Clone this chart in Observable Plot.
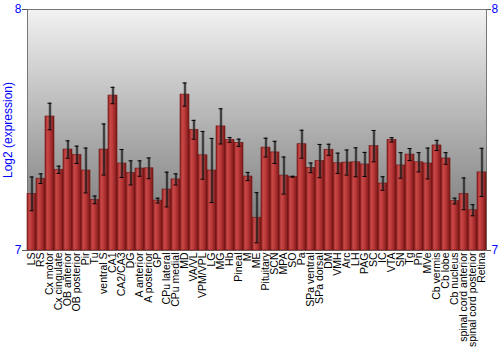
<!DOCTYPE html>
<html><head><meta charset="utf-8">
<script src="https://cdn.jsdelivr.net/npm/d3@7"></script>
<script src="https://cdn.jsdelivr.net/npm/@observablehq/plot@0.6"></script>
<style>
body{margin:0;background:#fff;}
g[aria-label="y-axis tick label"], g[aria-label="y-axis label"]{fill:#0000ff;}
</style>
</head><body><div id="chart"></div>
<script>
const regions = ["LS","RS","Cx motor","Cx cingulate","OB anterior","OB posterior","Pir","Tu","ventral S","CA1","CA2/CA3","DG","A anterior","A posterior","GP","CPu lateral","CPu medial","MD","VA/VL","VPM/VPL","LG","MG","Hb","Pineal","M","ME","Pituitary","SCN","MPA","SO","Pa","SPa ventral","SPa dorsal","DM","VMH","Arc","LH","PAG","SC","IC","VTA","SN","Tg","Pn","MVe","Cb vermis","Cb lobe","Cb nucleus","spinal cord anterior","spinal cord posterior","Retina"];
const means = [7.235,7.298,7.556,7.335,7.419,7.397,7.332,7.210,7.419,7.643,7.361,7.322,7.340,7.341,7.207,7.253,7.295,7.647,7.501,7.395,7.332,7.515,7.459,7.447,7.307,7.136,7.427,7.407,7.311,7.306,7.441,7.343,7.371,7.418,7.362,7.365,7.366,7.357,7.433,7.278,7.459,7.353,7.398,7.366,7.361,7.436,7.382,7.205,7.235,7.167,7.324];
const errs = [0.070,0.020,0.055,0.015,0.036,0.036,0.093,0.016,0.106,0.034,0.058,0.050,0.032,0.043,0.010,0.072,0.023,0.048,0.039,0.099,0.133,0.073,0.010,0.015,0.017,0.104,0.039,0.046,0.077,0.002,0.058,0.020,0.069,0.023,0.042,0.052,0.060,0.050,0.065,0.028,0.009,0.053,0.025,0.040,0.064,0.021,0.024,0.012,0.066,0.023,0.100];
const yTicks = [7, 8];
const data = regions.map((name, i) => ({name, v: means[i], e: errs[i]}));

const defs = () => {
  const ns = "http://www.w3.org/2000/svg";
  const d = document.createElementNS(ns, "defs");
  d.innerHTML = `
    <linearGradient id="bgGrad" x1="0" y1="0" x2="0" y2="1">
      <stop offset="0" stop-color="#f2f2f2"/>
      <stop offset="0.55" stop-color="#a8a8a8"/>
      <stop offset="1" stop-color="#707070"/>
    </linearGradient>
    <linearGradient id="barGrad" x1="0" y1="0" x2="1" y2="0">
      <stop offset="0" stop-color="#8a1e1e"/>
      <stop offset="0.25" stop-color="#c94848"/>
      <stop offset="0.55" stop-color="#b83636"/>
      <stop offset="1" stop-color="#7a1818"/>
    </linearGradient>`;
  return d;
};

const chart = Plot.plot({
  width: 500, height: 350,
  marginLeft: 27, marginRight: 14, marginTop: 9, marginBottom: 100,
  style: {fontFamily: "'Liberation Sans', Arial, sans-serif", fontSize: "10.5px", background: "#fff"},
  x: {type: "band", domain: regions, padding: 0},
  y: {domain: [7, 8]},
  marks: [
    defs,
    Plot.frame({fill: "url(#bgGrad)", stroke: "#777"}),
    Plot.barY(data, {x: "name", y1: 7, y2: "v", fill: "url(#barGrad)", stroke: "#6e1414", strokeWidth: 0.6}),
    Plot.ruleX(data, {x: "name", y1: d => d.v - d.e, y2: d => d.v + d.e, stroke: "#555", strokeOpacity: 0.5, strokeWidth: 3}),
    Plot.ruleX(data, {x: "name", y1: d => d.v - d.e, y2: d => d.v + d.e, stroke: "#000", strokeWidth: 1}),
    Plot.tickY(data, {x: "name", y: d => d.v - d.e, stroke: "#000", insetLeft: 2.5, insetRight: 2.5}),
    Plot.tickY(data, {x: "name", y: d => d.v + d.e, stroke: "#000", insetLeft: 2.5, insetRight: 2.5}),
    Plot.axisY({anchor: "left", ticks: yTicks, tickFormat: d => String(d), tickSize: 5, tickPadding: 1, stroke: "#555", label: "Log2 (expression)", labelAnchor: "center", labelArrow: "none", labelOffset: 24, fontSize: 12}),
    Plot.axisY({anchor: "right", ticks: yTicks, tickFormat: d => String(d), tickSize: 4, tickPadding: 1, stroke: "#555", label: null, fontSize: 12}),
    Plot.axisX({tickRotate: -90, tickSize: 0, tickPadding: 2, label: null, fill: "#000"})
  ]
});
document.getElementById("chart").appendChild(chart);
</script>
</body></html>
